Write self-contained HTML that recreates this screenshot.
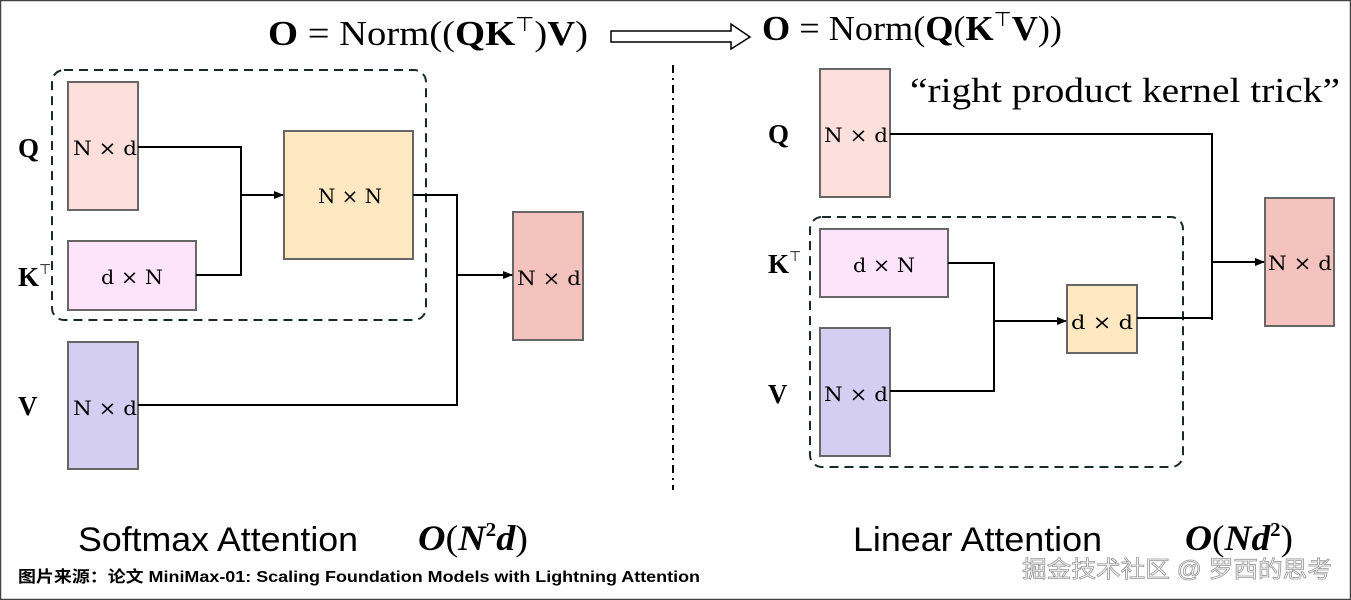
<!DOCTYPE html>
<html><head><meta charset="utf-8"><style>
html,body{margin:0;padding:0;background:#fff;}
svg{display:block;}
</style></head><body>
<svg width="1351" height="600" viewBox="0 0 1351 600" xmlns="http://www.w3.org/2000/svg">
<defs>
<marker id="ah" markerWidth="10" markerHeight="8" refX="9" refY="4" orient="auto" markerUnits="userSpaceOnUse"><path d="M0,0 L10,4 L0,8 Z" fill="#000"/></marker>
</defs>
<rect x="0.5" y="0.5" width="1350" height="599" fill="#fff" stroke="#444" stroke-width="1.5"/>
<g font-family="Liberation Serif, serif" font-size="35" fill="#000">
<text x="268" y="45" textLength="320" lengthAdjust="spacingAndGlyphs"><tspan font-weight="bold">O</tspan> = Norm((<tspan font-weight="bold">QK</tspan><tspan font-size="20" dy="-14">⊤</tspan><tspan dy="14">)</tspan><tspan font-weight="bold">V</tspan>)</text>
<text x="762" y="40" textLength="300" lengthAdjust="spacingAndGlyphs"><tspan font-weight="bold">O</tspan> = Norm(<tspan font-weight="bold">Q</tspan>(<tspan font-weight="bold">K</tspan><tspan font-size="20" dy="-14">⊤</tspan><tspan dy="14" font-weight="bold">V</tspan>))</text>
<text x="910" y="102" font-size="35" textLength="430" lengthAdjust="spacingAndGlyphs">“right product kernel trick”</text>
</g>
<path d="M611,31 L731,31 L731,24 L750,37 L731,49 L731,42 L611,42 Z" fill="#fff" stroke="#000" stroke-width="1.5"/>
<line x1="673" y1="65" x2="673" y2="490" stroke="#000" stroke-width="2" stroke-dasharray="8,5,2,5"/>

<g font-family="Liberation Serif, serif" font-weight="bold" font-size="27">
<text x="18" y="157">Q</text><text x="18" y="286">K<tspan font-size="14" dy="-12" font-weight="normal">⊤</tspan></text><text x="18" y="415">V</text>
<text x="768" y="143">Q</text><text x="768" y="273">K<tspan font-size="14" dy="-12" font-weight="normal">⊤</tspan></text><text x="768" y="403">V</text>
</g>

<g stroke="#666" stroke-width="2">
<rect x="68" y="82" width="70" height="128" fill="#fde0dc"/>
<rect x="68" y="241" width="128" height="69" fill="#fde4fb"/>
<rect x="284" y="131" width="129" height="128" fill="#fde8c2"/>
<rect x="513" y="212" width="70" height="128" fill="#f5c3bd"/>
<rect x="68" y="342" width="70" height="127" fill="#d4cef3"/>
<rect x="820" y="69" width="70" height="128" fill="#fde0dc"/>
<rect x="820" y="229" width="128" height="68" fill="#fde4fb"/>
<rect x="1067" y="285" width="70" height="68" fill="#fde8c2"/>
<rect x="1265" y="198" width="69" height="128" fill="#f5c3bd"/>
<rect x="820" y="328" width="70" height="128" fill="#d4cef3"/>
</g>
<g fill="none" stroke="#1a2a2a" stroke-width="2" stroke-dasharray="9,6">
<rect x="52" y="70" width="374" height="250" rx="12"/>
<rect x="810" y="217" width="373" height="250" rx="12"/>
</g>
<g fill="none" stroke="#000" stroke-width="2">
<polyline points="138,147 241,147 241,275 196,275"/>
<line x1="241" y1="195" x2="283" y2="195" marker-end="url(#ah)"/>
<polyline points="413,195 457,195 457,405 138,405"/>
<line x1="457" y1="275" x2="512" y2="275" marker-end="url(#ah)"/>
<polyline points="890,134 1212,134 1212,320"/>
<line x1="1137" y1="318" x2="1212" y2="318"/>
<line x1="1212" y1="262" x2="1264" y2="262" marker-end="url(#ah)"/>
<polyline points="948,263 994,263 994,391 890,391"/>
<line x1="994" y1="321" x2="1066" y2="321" marker-end="url(#ah)"/>
</g>
<g font-family="DejaVu Serif, serif" font-size="20" fill="#000">
<text x="73" y="155" textLength="64" lengthAdjust="spacingAndGlyphs">N × d</text>
<text x="101" y="284" textLength="62" lengthAdjust="spacingAndGlyphs">d × N</text>
<text x="318" y="203" textLength="64" lengthAdjust="spacingAndGlyphs">N × N</text>
<text x="517" y="285" textLength="64" lengthAdjust="spacingAndGlyphs">N × d</text>
<text x="73" y="415" textLength="64" lengthAdjust="spacingAndGlyphs">N × d</text>
<text x="824" y="142" textLength="64" lengthAdjust="spacingAndGlyphs">N × d</text>
<text x="853" y="272" textLength="62" lengthAdjust="spacingAndGlyphs">d × N</text>
<text x="1071" y="329" textLength="62" lengthAdjust="spacingAndGlyphs">d × d</text>
<text x="1268" y="270" textLength="64" lengthAdjust="spacingAndGlyphs">N × d</text>
<text x="824" y="401" textLength="64" lengthAdjust="spacingAndGlyphs">N × d</text>
</g>
<g font-family="Liberation Sans, sans-serif" font-size="34" fill="#000">
<text x="78" y="551" textLength="280" lengthAdjust="spacingAndGlyphs">Softmax Attention</text>
<text x="853" y="551" textLength="249" lengthAdjust="spacingAndGlyphs">Linear Attention</text>
</g>
<g font-family="Liberation Serif, serif" font-size="36" fill="#000" font-style="italic" font-weight="bold">
<text x="418" y="550" textLength="110" lengthAdjust="spacingAndGlyphs">O<tspan font-style="normal" font-weight="normal">(</tspan>N<tspan font-size="20" dy="-14" font-style="normal">2</tspan><tspan dy="14">d</tspan><tspan font-style="normal" font-weight="normal">)</tspan></text>
<text x="1185" y="550" textLength="108" lengthAdjust="spacingAndGlyphs">O<tspan font-style="normal" font-weight="normal">(</tspan>Nd<tspan font-size="20" dy="-14" font-style="normal">2</tspan><tspan dy="14" font-style="normal" font-weight="normal">)</tspan></text>
</g>
<text x="18" y="582" font-family="Liberation Sans, Noto Sans CJK SC, sans-serif" font-size="16" font-weight="bold" fill="#000" textLength="682" lengthAdjust="spacingAndGlyphs">图片来源：论文 MiniMax-01: Scaling Foundation Models with Lightning Attention</text>
<text x="1022" y="577" font-family="Liberation Sans, Noto Sans CJK SC, sans-serif" font-size="23" fill="#fff" stroke="#999" stroke-width="0.8" textLength="310" lengthAdjust="spacingAndGlyphs">掘金技术社区 @ 罗西的思考</text>
</svg>
</body></html>
